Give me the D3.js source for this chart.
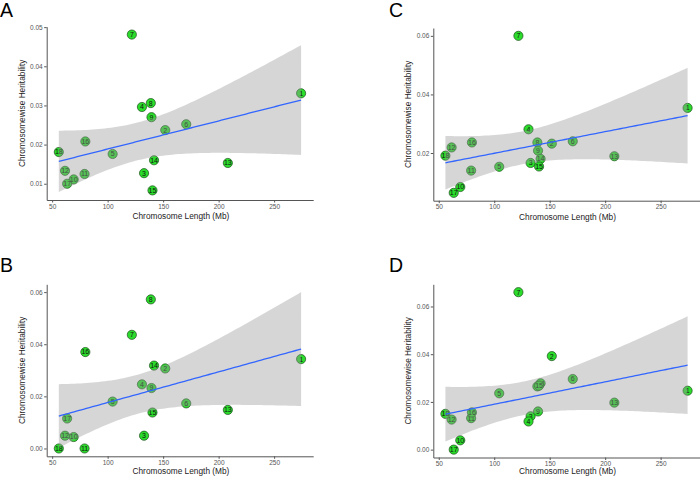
<!DOCTYPE html>
<html><head><meta charset="utf-8">
<script src="https://cdn.jsdelivr.net/npm/d3@7"></script>
<style>body{margin:0;background:#fff}text{font-family:"Liberation Sans",Arial,sans-serif}</style>
</head><body>
<svg id="c" width="700" height="477"></svg>
<script>
// ---- data ----
const chromosomes = [1,2,3,4,5,6,7,8,9,10,11,12,13,14,15,16,17,18];
const lengthMb = [274.3,151.9,132.8,130.9,104.5,170.8,121.8,138.9,139.5,69.4,79.2,61.6,208.3,141.8,140.4,79.9,63.5,56.0];
const heritA = [0.0331,0.0237,0.0127,0.0296,0.0176,0.0252,0.0481,0.0306,0.0270,0.0111,0.0125,0.0133,0.0153,0.0160,0.0083,0.0208,0.0100,0.0181];
const heritB = [0.0343,0.0307,0.0049,0.0246,0.0180,0.0173,0.0436,0.0572,0.0232,0.0044,0.0000,0.0049,0.0148,0.0318,0.0138,0.0370,0.0115,0.0000];
const heritC = [0.0354,0.0232,0.0166,0.0281,0.0153,0.0240,0.0600,0.0236,0.0208,0.0084,0.0140,0.0219,0.0189,0.0180,0.0154,0.0236,0.0064,0.0191];
const heritD = [0.0247,0.0392,0.0140,0.0118,0.0236,0.0296,0.0660,0.0265,0.0160,0.0039,0.0132,0.0126,0.0197,0.0278,0.0268,0.0156,0.0000,0.0150];
const xTicks = [50,100,150,200,250];
const yTicksA = [0.01,0.02,0.03,0.04,0.05];
const yTicksB = [0.00,0.02,0.04,0.06];
const yTicksC = [0.02,0.04,0.06];
const yTicksD = [0.00,0.02,0.04,0.06];
const panelLetters = ["A","B","C","D"];
const xTitle = "Chromosome Length (Mb)";
const yTitle = "Chromosomewise Heritability";

// ---- layout ----
const panels = [
  {letter:panelLetters[0], y:heritA, ticks:yTicksA, left:46.7, right:313.2, top:26.7, bottom:200, lx:0, ly:17, tOff:19},
  {letter:panelLetters[1], y:heritB, ticks:yTicksB, left:46.7, right:313.2, top:284.3, bottom:456.3, lx:0, ly:272, tOff:17.5},
  {letter:panelLetters[2], y:heritC, ticks:yTicksC, left:433.3, right:699.7, top:28, bottom:200.7, lx:389, ly:17, tOff:19},
  {letter:panelLetters[3], y:heritD, ticks:yTicksD, left:433.3, right:699.7, top:284.3, bottom:457.5, lx:389, ly:272, tOff:16.5}
];

const svg = d3.select("#c");

function fit(xs, ys){
  const n = xs.length, xb = d3.mean(xs), yb = d3.mean(ys);
  let sxx=0, sxy=0;
  for(let i=0;i<n;i++){ sxx+=(xs[i]-xb)**2; sxy+=(xs[i]-xb)*(ys[i]-yb); }
  const b = sxy/sxx, a = yb - b*xb;
  let sse=0; for(let i=0;i<n;i++){ sse += (ys[i]-a-b*xs[i])**2; }
  const s2 = sse/(n-2), t = 2.119905;
  const [x0,x1] = d3.extent(xs);
  return d3.range(80).map(k=>{
    const x = x0 + (x1-x0)*k/79;
    const y = a + b*x;
    const se = Math.sqrt(s2*(1/n + (x-xb)**2/sxx));
    return {x, y, lo:y-t*se, hi:y+t*se};
  });
}

panels.forEach(p=>{
  const data = chromosomes.map((c,i)=>({c, x:lengthMb[i], y:p.y[i]}));
  const sm = fit(lengthMb, p.y);
  const xr = d3.extent(lengthMb), xpad = (xr[1]-xr[0])*0.05;
  const ymin = Math.min(d3.min(p.y), d3.min(sm, d=>d.lo));
  const ymax = Math.max(d3.max(p.y), d3.max(sm, d=>d.hi));
  const ypad = (ymax-ymin)*0.05;
  const x = d3.scaleLinear().domain([xr[0]-xpad, xr[1]+xpad]).range([p.left, p.right]);
  const y = d3.scaleLinear().domain([ymin-ypad, ymax+ypad]).range([p.bottom, p.top]);
  const g = svg.append("g");

  // points + labels
  const pt = g.append("g").selectAll("g").data(data).join("g")
    .attr("transform", d=>`translate(${x(d.x)},${y(d.y)})`);
  pt.append("circle").attr("r",4.6).attr("fill","#2bdc2b").attr("stroke","#1d4d1d").attr("stroke-width",0.7);
  pt.append("text").text(d=>d.c).attr("text-anchor","middle").attr("dy","0.35em")
    .attr("font-size",7).attr("fill","#111");

  // confidence ribbon
  g.append("path").datum(sm)
    .attr("d", d3.area().x(d=>x(d.x)).y0(d=>y(d.lo)).y1(d=>y(d.hi)))
    .attr("fill","#999999").attr("fill-opacity",0.4);
  // regression line
  g.append("path").datum(sm)
    .attr("d", d3.line().x(d=>x(d.x)).y(d=>y(d.y)))
    .attr("fill","none").attr("stroke","#3366FF").attr("stroke-width",1.3);

  // axes
  const xa = g.append("g").attr("transform",`translate(0,${p.bottom})`)
    .call(d3.axisBottom(x).tickValues(xTicks).tickSize(2.5).tickPadding(1.5).tickSizeOuter(0));
  const ya = g.append("g").attr("transform",`translate(${p.left},0)`)
    .call(d3.axisLeft(y).tickValues(p.ticks).tickFormat(d3.format(".2f")).tickSize(2.5).tickPadding(1.5).tickSizeOuter(0));
  [xa,ya].forEach(a=>{
    a.select(".domain").attr("stroke","#555").attr("stroke-width",1);
    a.selectAll(".tick line").attr("stroke","#555");
    a.selectAll(".tick text").attr("fill","#555").attr("font-size",6.5).attr("font-family","Liberation Sans, Arial, sans-serif");
  });

  // titles
  g.append("text").attr("x",(p.left+p.right)/2+1).attr("y",p.bottom+p.tOff)
    .attr("text-anchor","middle").attr("font-size",8.3).attr("fill","#222").text(xTitle);
  g.append("text").attr("transform",`translate(${p.left-22},${(p.top+p.bottom)/2}) rotate(-90)`)
    .attr("text-anchor","middle").attr("font-size",8.3).attr("fill","#222").text(yTitle);
  g.append("text").attr("x",p.lx).attr("y",p.ly).attr("font-size",19.5).attr("fill","#000").text(p.letter);
});
</script>
</body></html>
